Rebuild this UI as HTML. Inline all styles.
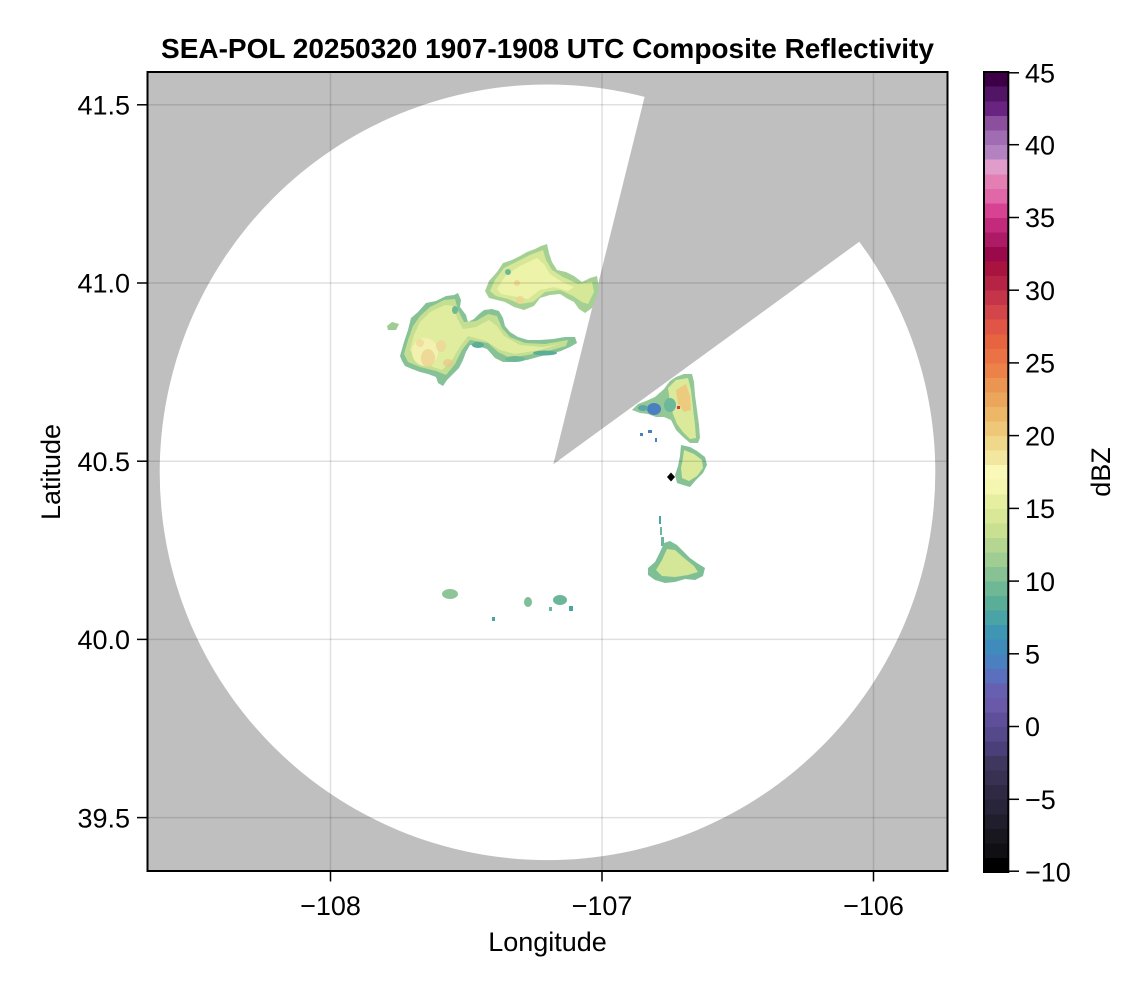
<!DOCTYPE html>
<html>
<head>
<meta charset="utf-8">
<style>
  html, body { margin: 0; padding: 0; background: #ffffff; }
  body { width: 1146px; height: 990px; overflow: hidden; }
  svg { display: block; font-family: "Liberation Sans", Arial, sans-serif; }
</style>
</head>
<body>
<svg width="1146" height="990" viewBox="0 0 1146 990" xmlns="http://www.w3.org/2000/svg">
  <defs>
    <clipPath id="plotclip">
      <rect x="147.5" y="72" width="800" height="799"/>
    </clipPath>
  </defs>

  <!-- Title -->
  <text x="547.5" y="58" font-size="28" font-weight="bold" text-anchor="middle" fill="#000">SEA-POL 20250320 1907-1908 UTC Composite Reflectivity</text>

  <!-- Plot area -->
  <g clip-path="url(#plotclip)">
    <rect x="147.5" y="72" width="800" height="799" fill="#bfbfbf"/>
    <circle cx="547.5" cy="472.3" r="387.8" fill="#ffffff"/>
    <polygon points="553.3,464.3 645,95.3 736.7,-273.7 1165.3,-180.9 859.3,241.7" fill="#bfbfbf"/>

    <!-- Storm 1 (large left) -->
    <path d="M387,326 L392,322 L399,324 L396,330 L388,330 Z" fill="#9fcc93"/>
    <path d="M400,356 L404,342 L408,330 L411,318 L418,312 L426,303 L436,301 L446,296 L454,295 L458,293 L461,300 L460,307 L466,315 L468,322 L474,319 L479,314 L484,310 L492,309 L499,311 L503,318 L505,326 L510,332 L518,337 L528,340 L540,340 L553,339 L565,337 L575,337 L577,343 L570,347 L561,351 L550,354 L538,357 L527,360 L515,362 L503,362 L495,358 L487,349 L478,346 L470,345 L466,352 L463,360 L459,368 L453,374 L447,380 L443,386 L438,383 L436,377 L428,374 L420,372 L412,369 L405,366 L402,361 Z" fill="#86c295"/>
    <path d="M404,354 L408,340 L413,326 L420,316 L430,307 L444,300 L455,299 L458,310 L464,322 L476,321 L488,314 L497,316 L502,328 L510,337 L525,343 L545,344 L568,340 L566,346 L548,351 L528,355 L510,358 L498,352 L488,343 L470,340 L462,350 L455,364 L446,375 L436,371 L420,367 L408,362 Z" fill="#c4de92"/>
    <path d="M410,350 L414,335 L420,322 L430,312 L445,305 L454,306 L457,318 L463,329 L476,327 L489,320 L497,326 L504,336 L520,345 L543,347 L560,344 L540,350 L515,354 L500,350 L486,341 L468,336 L459,348 L451,362 L442,370 L430,366 L416,361 Z" fill="#e0ed9f"/>
    <ellipse cx="425" cy="352" rx="13" ry="14" fill="#f3f1b0"/>
    <ellipse cx="428" cy="358" rx="7" ry="9" fill="#ecd392" opacity="0.8"/>
    <ellipse cx="441" cy="346" rx="5" ry="6" fill="#eed597" opacity="0.8"/>
    <ellipse cx="420" cy="343" rx="4" ry="4" fill="#eed597" opacity="0.7"/>
    <ellipse cx="448" cy="363" rx="5" ry="4" fill="#e8c687" opacity="0.7"/>
    <ellipse cx="478" cy="345" rx="6" ry="3" fill="#5aae98"/>
    <ellipse cx="515" cy="359" rx="10" ry="3" fill="#6fb895"/>
    <ellipse cx="545" cy="353" rx="12" ry="2.5" fill="#5aae98"/>
    <ellipse cx="455" cy="310" rx="3" ry="4" fill="#6fb895"/>

    <!-- Storm 2 (upper) -->
    <path d="M485,291 L489,281 L497,272 L503,263 L512,260 L520,256 L527,252 L535,249 L541,246 L547,244 L549,253 L552,262 L557,270 L566,272 L574,276 L582,282 L590,278 L597,276 L599,288 L596,298 L592,308 L585,313 L579,309 L574,302 L568,299 L560,294 L550,295 L540,298 L534,306 L524,310 L514,307 L505,302 L497,300 L489,298 Z" fill="#a5d094"/>
    <path d="M490,291 L495,280 L504,268 L516,262 L530,255 L543,250 L546,260 L552,270 L563,277 L578,284 L592,282 L594,292 L588,304 L582,302 L573,296 L560,290 L545,292 L533,302 L520,304 L508,299 L496,296 Z" fill="#d6e898"/>
    <path d="M497,289 L506,275 L520,266 L537,258 L544,264 L550,274 L562,282 L574,287 L568,291 L554,287 L540,290 L528,299 L512,296 L501,294 Z" fill="#eef3aa"/>
    <ellipse cx="520" cy="300" rx="4" ry="4" fill="#ecd392" opacity="0.8"/>
    <ellipse cx="517" cy="283" rx="3" ry="3" fill="#ecd392" opacity="0.8"/>
    <ellipse cx="508" cy="272" rx="3" ry="3" fill="#6fb895"/>

    <!-- Storm 3 (right, near wedge) -->
    <path d="M632,410 L638,404 L646,401 L655,397 L664,389 L670,381 L676,377 L684,374 L692,374 L694,382 L695,395 L697,410 L699,425 L700,438 L698,443 L690,443 L683,437 L676,430 L671,420 L664,417 L656,417 L648,414 L640,413 Z" fill="#93c795"/>
    <path d="M668,388 L676,380 L688,378 L691,390 L693,408 L695,425 L696,438 L690,439 L683,432 L677,424 L673,414 L670,402 Z" fill="#dbea9a"/>
    <path d="M676,390 L686,384 L690,396 L691,410 L684,412 L678,404 Z" fill="#eec57a" opacity="0.85"/>
    <ellipse cx="654" cy="409" rx="7" ry="6" fill="#4a80c0"/>
    <ellipse cx="643" cy="408" rx="5" ry="3" fill="#5aa6a8"/>
    <ellipse cx="670" cy="405" rx="6" ry="7" fill="#6cb89a"/>
    <rect x="677" y="406" width="3" height="3" fill="#d63a4a"/>
    <rect x="640" y="433" width="3" height="3" fill="#4a80c0"/>
    <rect x="648" y="430" width="4" height="3" fill="#4a80c0"/>
    <rect x="655" y="438" width="2" height="4" fill="#4a80c0"/>

    <!-- Storm 4 -->
    <path d="M681,445 L690,447 L697,451 L705,457 L707,465 L703,473 L696,480 L690,487 L683,485 L677,483 L675,475 L678,466 L680,456 Z" fill="#86c295"/>
    <path d="M684,450 L694,454 L702,460 L703,468 L697,476 L689,481 L682,478 L681,468 L683,458 Z" fill="#dbea9a"/>

    <!-- Diamond marker -->
    <polygon points="671,472.5 675,477 671,481.5 667,477" fill="#000"/>

    <!-- Storm 5 -->
    <rect x="659" y="516" width="2" height="8" fill="#4aa3a4"/>
    <rect x="660" y="527" width="2" height="8" fill="#6cb79a"/>
    <rect x="661" y="537" width="3" height="9" fill="#6cb79a"/>
    <path d="M648,568 L655,562 L660,552 L664,543 L670,541 L677,545 L683,551 L690,558 L697,563 L705,568 L703,576 L695,580 L685,579 L675,582 L665,583 L655,580 L648,575 Z" fill="#7fbf96"/>
    <path d="M656,570 L662,560 L667,549 L675,550 L684,558 L694,566 L698,572 L688,575 L675,577 L662,576 Z" fill="#d4e697"/>

    <!-- Small cells -->
    <ellipse cx="450" cy="594" rx="8" ry="5" fill="#8cc597"/>
    <ellipse cx="528" cy="602" rx="4" ry="5" fill="#7fbf96"/>
    <ellipse cx="560" cy="600" rx="7" ry="5" fill="#6cb79a"/>
    <rect x="549" y="607" width="3" height="4" fill="#6cb79a"/>
    <rect x="569" y="606" width="4" height="5" fill="#4aa3a4"/>
    <rect x="492" y="617" width="3" height="4" fill="#4aa3a4"/>

    <!-- Gridlines -->
    <g stroke="#000" stroke-opacity="0.12" stroke-width="1.5">
      <line x1="330.5" y1="72" x2="330.5" y2="871"/>
      <line x1="602" y1="72" x2="602" y2="871"/>
      <line x1="873.5" y1="72" x2="873.5" y2="871"/>
      <line x1="147.5" y1="104.8" x2="947.5" y2="104.8"/>
      <line x1="147.5" y1="283" x2="947.5" y2="283"/>
      <line x1="147.5" y1="461.2" x2="947.5" y2="461.2"/>
      <line x1="147.5" y1="639.4" x2="947.5" y2="639.4"/>
      <line x1="147.5" y1="817.6" x2="947.5" y2="817.6"/>
    </g>
  </g>

  <!-- Axis frame -->
  <rect x="147.5" y="72" width="800" height="799" fill="none" stroke="#000" stroke-width="2"/>

  <!-- Ticks -->
  <g stroke="#000" stroke-width="1.5">
    <line x1="137" y1="104.8" x2="147.5" y2="104.8"/>
    <line x1="137" y1="283" x2="147.5" y2="283"/>
    <line x1="137" y1="461.2" x2="147.5" y2="461.2"/>
    <line x1="137" y1="639.4" x2="147.5" y2="639.4"/>
    <line x1="137" y1="817.6" x2="147.5" y2="817.6"/>
    <line x1="330.5" y1="871" x2="330.5" y2="881.5"/>
    <line x1="602" y1="871" x2="602" y2="881.5"/>
    <line x1="873.5" y1="871" x2="873.5" y2="881.5"/>
  </g>
  <g font-size="27" fill="#000" text-anchor="end">
    <text x="130" y="114.5">41.5</text>
    <text x="130" y="292.7">41.0</text>
    <text x="130" y="470.9">40.5</text>
    <text x="130" y="649.1">40.0</text>
    <text x="130" y="827.3">39.5</text>
  </g>
  <g font-size="27" fill="#000" text-anchor="middle">
    <text x="330.5" y="915">−108</text>
    <text x="602" y="915">−107</text>
    <text x="873.5" y="915">−106</text>
  </g>
  <text x="547.5" y="951" font-size="27" text-anchor="middle" fill="#000">Longitude</text>
  <text transform="translate(60,472) rotate(-90)" font-size="27" text-anchor="middle" fill="#000">Latitude</text>

  <!-- Colorbar -->
  <g shape-rendering="crispEdges">
    <rect x="984" y="857.45" width="24" height="15" fill="#000000"/>
    <rect x="984" y="842.91" width="24" height="15" fill="#0f0f14"/>
    <rect x="984" y="828.36" width="24" height="15" fill="#181720"/>
    <rect x="984" y="813.82" width="24" height="15" fill="#201d2d"/>
    <rect x="984" y="799.27" width="24" height="15" fill="#28243a"/>
    <rect x="984" y="784.73" width="24" height="15" fill="#2f2944"/>
    <rect x="984" y="770.18" width="24" height="15" fill="#383152"/>
    <rect x="984" y="755.64" width="24" height="15" fill="#40375f"/>
    <rect x="984" y="741.09" width="24" height="15" fill="#4a3f78"/>
    <rect x="984" y="726.55" width="24" height="15" fill="#55498c"/>
    <rect x="984" y="712.00" width="24" height="15" fill="#5f4f9a"/>
    <rect x="984" y="697.45" width="24" height="15" fill="#6a58a8"/>
    <rect x="984" y="682.91" width="24" height="15" fill="#6760b0"/>
    <rect x="984" y="668.36" width="24" height="15" fill="#5a6fbd"/>
    <rect x="984" y="653.82" width="24" height="15" fill="#4a80c0"/>
    <rect x="984" y="639.27" width="24" height="15" fill="#3f8cbc"/>
    <rect x="984" y="624.73" width="24" height="15" fill="#3f96b2"/>
    <rect x="984" y="610.18" width="24" height="15" fill="#4aa3a4"/>
    <rect x="984" y="595.64" width="24" height="15" fill="#5aae98"/>
    <rect x="984" y="581.09" width="24" height="15" fill="#6fb895"/>
    <rect x="984" y="566.55" width="24" height="15" fill="#86c293"/>
    <rect x="984" y="552.00" width="24" height="15" fill="#a0cd91"/>
    <rect x="984" y="537.45" width="24" height="15" fill="#b4d690"/>
    <rect x="984" y="522.91" width="24" height="15" fill="#c8e090"/>
    <rect x="984" y="508.36" width="24" height="15" fill="#d8e896"/>
    <rect x="984" y="493.82" width="24" height="15" fill="#e5ef9f"/>
    <rect x="984" y="479.27" width="24" height="15" fill="#f5f6b0"/>
    <rect x="984" y="464.73" width="24" height="15" fill="#fbf9b8"/>
    <rect x="984" y="450.18" width="24" height="15" fill="#f3e7a0"/>
    <rect x="984" y="435.64" width="24" height="15" fill="#f0d88a"/>
    <rect x="984" y="421.09" width="24" height="15" fill="#eec878"/>
    <rect x="984" y="406.55" width="24" height="15" fill="#ecb868"/>
    <rect x="984" y="392.00" width="24" height="15" fill="#eba65c"/>
    <rect x="984" y="377.45" width="24" height="15" fill="#eb9552"/>
    <rect x="984" y="362.91" width="24" height="15" fill="#ec8249"/>
    <rect x="984" y="348.36" width="24" height="15" fill="#eb7244"/>
    <rect x="984" y="333.82" width="24" height="15" fill="#e66440"/>
    <rect x="984" y="319.27" width="24" height="15" fill="#e05545"/>
    <rect x="984" y="304.73" width="24" height="15" fill="#d24548"/>
    <rect x="984" y="290.18" width="24" height="15" fill="#c4354a"/>
    <rect x="984" y="275.64" width="24" height="15" fill="#b52445"/>
    <rect x="984" y="261.09" width="24" height="15" fill="#a8143f"/>
    <rect x="984" y="246.55" width="24" height="15" fill="#9a0a4a"/>
    <rect x="984" y="232.00" width="24" height="15" fill="#ad1a66"/>
    <rect x="984" y="217.45" width="24" height="15" fill="#c42a7c"/>
    <rect x="984" y="202.91" width="24" height="15" fill="#d74292"/>
    <rect x="984" y="188.36" width="24" height="15" fill="#e068a8"/>
    <rect x="984" y="173.82" width="24" height="15" fill="#e47fb4"/>
    <rect x="984" y="159.27" width="24" height="15" fill="#e09dcc"/>
    <rect x="984" y="144.73" width="24" height="15" fill="#b283c0"/>
    <rect x="984" y="130.18" width="24" height="15" fill="#a06cb2"/>
    <rect x="984" y="115.64" width="24" height="15" fill="#8c4f9e"/>
    <rect x="984" y="101.09" width="24" height="15" fill="#682480"/>
    <rect x="984" y="86.55" width="24" height="15" fill="#521464"/>
    <rect x="984" y="72.00" width="24" height="14.6" fill="#3d0047"/>
  </g>
  <rect x="984" y="72" width="24.3" height="800" fill="none" stroke="#000" stroke-width="2"/>
  <g stroke="#000" stroke-width="1.5">
    <line x1="1008" y1="72.8" x2="1019" y2="72.8"/>
    <line x1="1008" y1="144.7" x2="1019" y2="144.7"/>
    <line x1="1008" y1="217.5" x2="1019" y2="217.5"/>
    <line x1="1008" y1="290.2" x2="1019" y2="290.2"/>
    <line x1="1008" y1="362.9" x2="1019" y2="362.9"/>
    <line x1="1008" y1="435.6" x2="1019" y2="435.6"/>
    <line x1="1008" y1="508.4" x2="1019" y2="508.4"/>
    <line x1="1008" y1="581.1" x2="1019" y2="581.1"/>
    <line x1="1008" y1="653.8" x2="1019" y2="653.8"/>
    <line x1="1008" y1="726.5" x2="1019" y2="726.5"/>
    <line x1="1008" y1="799.3" x2="1019" y2="799.3"/>
    <line x1="1008" y1="871.2" x2="1019" y2="871.2"/>
  </g>
  <g font-size="27" fill="#000" text-anchor="start">
    <text x="1025" y="82.5">45</text>
    <text x="1025" y="154.4">40</text>
    <text x="1025" y="227.2">35</text>
    <text x="1025" y="299.9">30</text>
    <text x="1025" y="372.6">25</text>
    <text x="1025" y="445.3">20</text>
    <text x="1025" y="518.1">15</text>
    <text x="1025" y="590.8">10</text>
    <text x="1025" y="663.5">5</text>
    <text x="1025" y="736.2">0</text>
    <text x="1025" y="809">−5</text>
    <text x="1025" y="881.7">−10</text>
  </g>
  <text transform="translate(1110,472) rotate(-90)" font-size="27" text-anchor="middle" fill="#000">dBZ</text>
</svg>
</body>
</html>
